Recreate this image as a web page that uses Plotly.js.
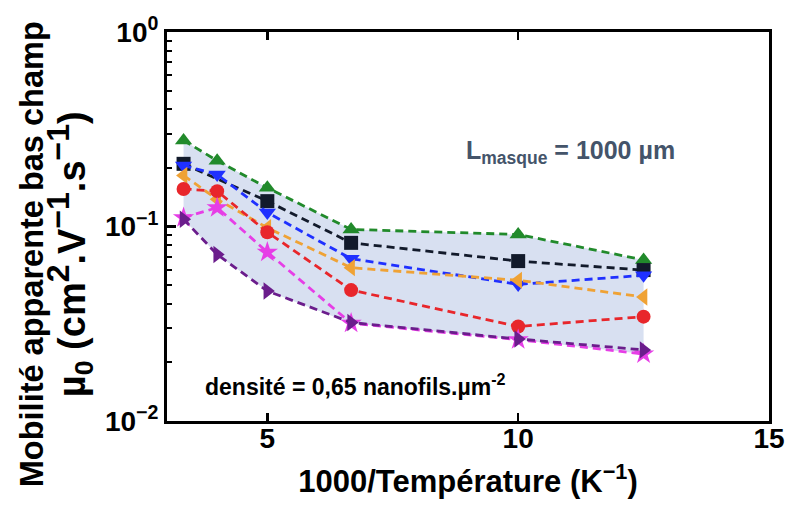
<!DOCTYPE html>
<html>
<head>
<meta charset="utf-8">
<script src="https://cdn.plot.ly/plotly-3.0.1.min.js"></script>
<style>html,body{margin:0;padding:0;background:#fff;}</style>
</head>
<body>
<div id="chart" style="width:786px;height:505px;"></div>
<script>
// 1000/T (K^-1)
const xInvT = [3.33, 4, 5, 6.67, 10, 12.5];

// Series (mobility, cm2/V/s)
const seriesGreen   = [0.277, 0.218, 0.158, 0.0966, 0.091, 0.0673];
const seriesBlack   = [0.210, null, 0.135, 0.0824, 0.0664, 0.0597];
const seriesBlue    = [0.206, 0.185, 0.118, 0.0683, 0.0504, 0.0561];
const seriesOrange  = [0.183, 0.138, 0.0985, 0.0614, 0.0529, 0.0434];
const seriesRed     = [0.156, 0.152, 0.0935, 0.0471, 0.0306, 0.0344];
const seriesMagenta = [0.111, 0.125, 0.0738, 0.0318, 0.0262, 0.0221];
const seriesPurple  = [0.109, 0.0718, 0.0466, 0.0321, 0.0264, 0.0232];

const yTickVals = [0.01, 0.1, 1];
const yTickText = ['10<sup>−2</sup>', '10<sup>−1</sup>', '10<sup>0</sup>'];
const xTickVals = [5, 10, 15];

const FONT = 'Liberation Sans, Arial, sans-serif';

const allSeries = [
  {y: seriesGreen,   color: '#218a2b', symbol: 'triangle-up'},
  {y: seriesBlack,   color: '#121a2b', symbol: 'square'},
  {y: seriesBlue,    color: '#1f30ff', symbol: 'triangle-down'},
  {y: seriesOrange,  color: '#efa235', symbol: 'triangle-left'},
  {y: seriesRed,     color: '#e8262b', symbol: 'circle'},
  {y: seriesMagenta, color: '#e63ee6', symbol: 'star'},
  {y: seriesPurple,  color: '#6b1d8c', symbol: 'triangle-right'}
];

// envelope for shaded band
const upper = xInvT.map((_, i) => Math.max(...allSeries.map(s => s.y[i]).filter(v => v != null)));
const lower = xInvT.map((_, i) => Math.min(...allSeries.map(s => s.y[i]).filter(v => v != null)));

const traces = [
  {x: xInvT, y: lower, mode: 'lines', line: {width: 0, color: 'rgba(0,0,0,0)'}, hoverinfo: 'skip', showlegend: false},
  {x: xInvT, y: upper, mode: 'lines', line: {width: 0, color: 'rgba(0,0,0,0)'}, fill: 'tonexty', fillcolor: 'rgb(216,224,241)', hoverinfo: 'skip', showlegend: false}
];
allSeries.forEach(s => {
  traces.push({
    x: xInvT, y: s.y, mode: 'lines+markers', connectgaps: true, showlegend: false,
    line: {color: s.color, width: 2.8, dash: '8px,5px'},
    marker: {color: s.color, symbol: s.symbol, size: s.symbol === 'star' ? 16 : (s.symbol === 'circle' || s.symbol === 'square' ? 14 : 15)}
  });
});

const SUP = t => '<sup><span style="font-size:32px">' + t + '</span></sup>';

const layout = {
  width: 786, height: 505,
  margin: {l: 167, r: 17, t: 32, b: 84},
  paper_bgcolor: '#fff', plot_bgcolor: '#fff',
  font: {family: FONT, color: '#000'},
  showlegend: false,
  xaxis: {
    range: [3, 15], tickvals: xTickVals, ticks: 'inside', ticklen: 8, tickwidth: 2.5, tickcolor: '#000',
    showline: true, linewidth: 3, linecolor: '#000', mirror: 'ticks',
    showgrid: false, zeroline: false, ticklabelstandoff: -10,
    tickfont: {size: 28, family: FONT, weight: 'bold', color: '#000'},
    title: {text: '1000/Température (K<sup>−1</sup>)', font: {size: 31, family: FONT, weight: 'bold', color: '#000'}, standoff: 18}
  },
  yaxis: {
    type: 'log', range: [-2, 0], tickvals: yTickVals, ticktext: yTickText,
    ticks: 'inside', ticklen: 9, tickwidth: 2.5, tickcolor: '#000',
    minor: {ticks: 'inside', ticklen: 5, tickwidth: 2, tickcolor: '#000',
            tickvals: [0.02,0.03,0.04,0.05,0.06,0.07,0.08,0.09,0.2,0.3,0.4,0.5,0.6,0.7,0.8,0.9], showgrid: false},
    showline: true, linewidth: 3, linecolor: '#000', mirror: true,
    showgrid: false, zeroline: false,
    tickfont: {size: 28, family: FONT, weight: 'bold', color: '#000'}
  },
  annotations: [
    {xref: 'paper', yref: 'paper', x: -0.1836, y: 0.43, xanchor: 'center', yanchor: 'middle', showarrow: false, textangle: -90,
     text: 'Mobilité apparente bas champ<br><span style="font-size:38px">µ<sub>0</sub> (cm' + SUP('2') + '.V' + SUP('−1') + '.s' + SUP('−1') + ')</span>',
     font: {size: 32.5, family: FONT, weight: 'bold', color: '#000'}},
    {xref: 'paper', yref: 'paper', x: 0.671, y: 0.692, xanchor: 'center', yanchor: 'middle', showarrow: false,
     text: 'L<sub>masque</sub> = 1000 µm', font: {size: 25, family: FONT, weight: 'bold', color: '#44546a'}},
    {xref: 'paper', yref: 'paper', x: 0.06, y: 0.0925, xanchor: 'left', yanchor: 'middle', showarrow: false,
     text: 'densité = 0,65 nanofils.µm<sup>-2</sup>', font: {size: 23, family: FONT, weight: 'bold', color: '#000'}}
  ]
};

Plotly.newPlot('chart', traces, layout, {displayModeBar: false, staticPlot: true});
</script>
</body>
</html>
